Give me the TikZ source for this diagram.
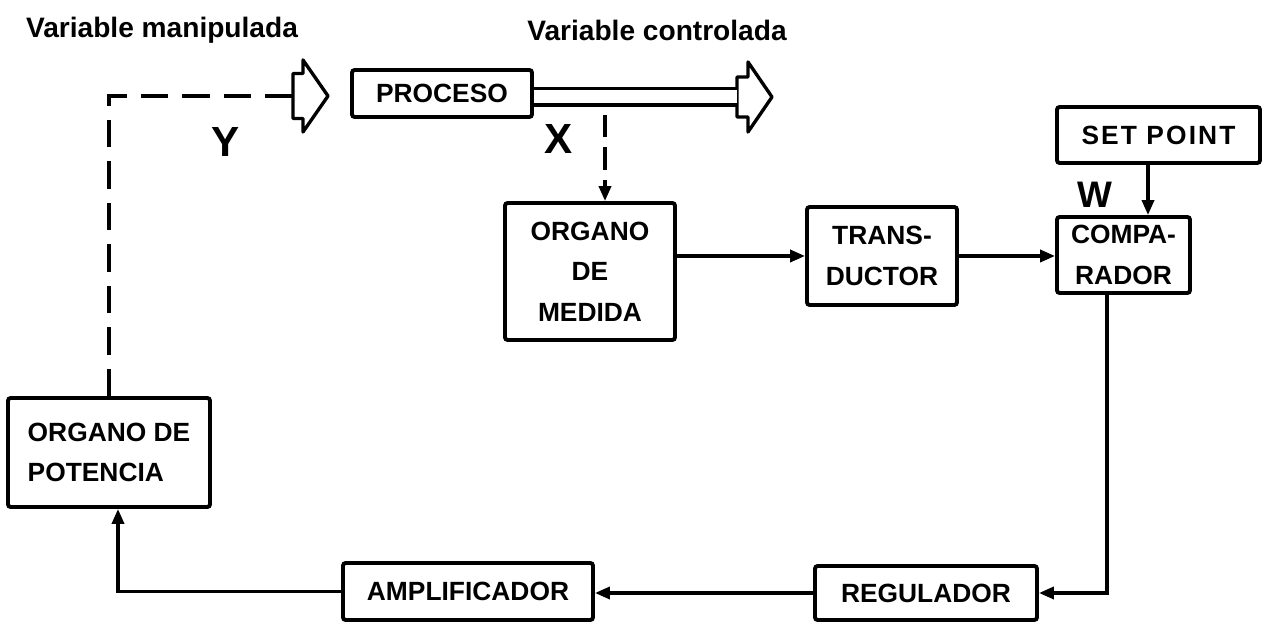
\documentclass[tikz,border=0pt]{standalone}
\usepackage{fontspec}
\setmainfont{Liberation Sans}
\usetikzlibrary{arrows.meta}

\begin{document}
\begin{tikzpicture}[
    box/.style={draw, line width=2.2pt, rounded corners=1.5pt, inner sep=0pt, align=center,
        font=\fontsize{15}{23}\selectfont\bfseries},
    arr/.style={line width=2pt, -{Triangle[length=0.3cm, width=0.24cm]}},
    dsh/.style={line width=1.8pt, dash pattern=on 0.55cm off 0.28cm},
    big/.style={font=\fontsize{24}{24}\selectfont\bfseries},
    hdr/.style={font=\fontsize{16}{16}\selectfont\bfseries}
]
    \useasboundingbox (0, 0) rectangle (25.34, 12.56);

    % 标题
    \node[hdr] (manip) at (3.24, 11.96) {Variable manipulada};
    \node[hdr] (contr) at (13.14, 11.96) {Variable controlada};

    % 方框
    \node[box, minimum width=3.6cm, minimum height=0.94cm] (proceso) at (8.84, 10.69) {PROCESO};
    \node[box, minimum width=3.4cm, minimum height=2.74cm] (medida) at (11.8, 7.13) {ORGANO\\DE\\MEDIDA};
    \node[box, minimum width=3.0cm, minimum height=1.96cm] (transductor) at (17.64, 7.44) {TRANS-\\DUCTOR};
    \node[box, minimum width=2.66cm, minimum height=1.52cm] (comparador) at (22.47, 7.46) {COMPA-\\RADOR};
    \node[box, minimum width=4.06cm, minimum height=1.12cm] (setpoint) at (23.17, 9.86)
        {\addfontfeature{LetterSpace=8}SET POINT};
    \node[box, minimum width=4.44cm, minimum height=1.08cm] (regulador) at (18.52, 0.70) {REGULADOR};
    \node[box, minimum width=5.0cm, minimum height=1.14cm] (amplificador) at (9.36, 0.73) {AMPLIFICADOR};
    \node[box, align=left, minimum width=4.04cm, minimum height=2.18cm] (potencia) at (2.18, 3.51) {ORGANO DE\\POTENCIA};

    % 字母
    \node[big] (ylab) at (4.52, 9.72) {Y};
    \node[big] (xlab) at (11.18, 9.78) {X};
    \node[big, font=\fontsize{21}{21}\selectfont\bfseries] (wlab) at (21.9, 8.66) {W};

    % 空心箭头
    \coordinate (yin) at (5.86, 10.64);
    \coordinate (xout) at (14.74, 10.62);
    \draw[line width=1.9pt, line join=round] (yin) -- ++(0, 0.45) -- ++(0.2, 0) -- ++(0, 0.27)
        -- ++(0.5, -0.72) -- ++(-0.5, -0.72) -- ++(0, 0.27) -- ++(-0.2, 0) -- cycle;
    \draw[line width=1.9pt, line join=round] (xout) -- ++(0, 0.4) -- ++(0.22, 0) -- ++(0, 0.3)
        -- ++(0.48, -0.7) -- ++(-0.48, -0.7) -- ++(0, 0.3) -- ++(-0.22, 0) -- cycle;

    % 连线
    \draw[line width=1.8pt, double, double distance=0.26cm] (proceso.east |- xout) -- (xout);
    \draw[dsh] (potencia.north) |- (yin);
    \coordinate (xtap) at (12.1, 10.26);
    \draw[dsh, arr, dash pattern=on 0.45cm off 0.2cm] (xtap) -- (xtap |- medida.north);
    \draw[arr] (medida.east |- transductor.west) -- (transductor.west);
    \draw[arr] (transductor.east) -- (transductor.east -| comparador.west);
    \draw[arr] ([xshift=-0.21cm]setpoint.south) -- ([xshift=-0.21cm]setpoint.south |- comparador.north);
    \draw[arr] ([xshift=-0.33cm]comparador.south) |- (regulador.east);
    \draw[arr] (regulador.west) -- (regulador.west -| amplificador.east);
    \draw[arr] (amplificador.west) -| ([xshift=0.18cm]potencia.south);
\end{tikzpicture}
\end{document}
